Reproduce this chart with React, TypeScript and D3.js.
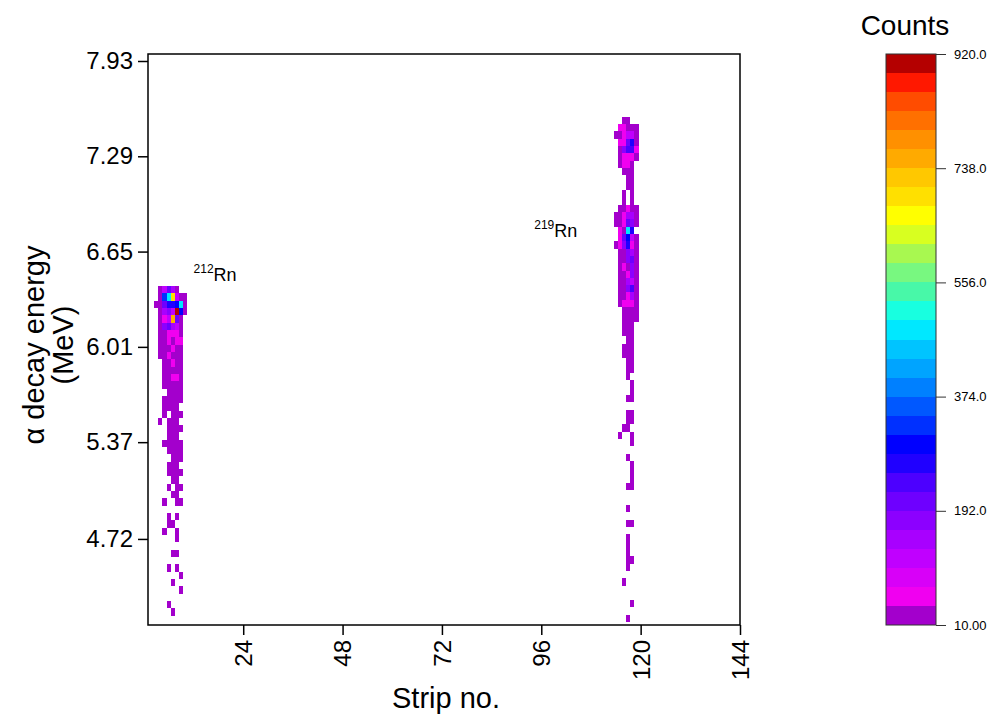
import React, { useEffect, useRef } from 'react';
import * as d3 from 'd3';

// axes
const STRIP_DOMAIN = [1, 144];
const ENERGY_DOMAIN = [4.142, 7.977];
const STRIP_TICKS = [24, 48, 72, 96, 120, 144];
const ENERGY_TICKS = [7.93, 7.29, 6.65, 6.01, 5.37, 4.72];
const COUNT_DOMAIN = [10, 920];
const COUNT_TICKS = [920, 738, 556, 374, 192, 10];
const COUNT_LABELS = ['920.0', '738.0', '556.0', '374.0', '192.0', '10.00'];
const ENERGY_BIN = 0.0492;

// 30 colour levels, low -> high
const PALETTE = [
  '#a300cc', '#f000f0', '#d800f8', '#c000ff', '#a800ff', '#8c00ff',
  '#6e00ff', '#4c00ff', '#2000ff', '#0000ff', '#0030ff', '#0058ff',
  '#0080ff', '#00a4ff', '#00c4ff', '#00e8ff', '#18ffe0', '#48f8a8',
  '#78f880', '#a8f850', '#d8ff20', '#ffff00', '#ffe000', '#ffc800',
  '#ffaa00', '#ff9000', '#ff7000', '#ff4c00', '#ff1800', '#b40000',
];

// 212Rn cluster: strips 3..10, rows from the top energy bin down
const RN212_STRIPS = [3, 4, 5, 6, 7, 8, 9, 10];
const RN212_TOP = 6.419;
const RN212_COUNTS = [
  [0, 30, 120, 200, 140, 30, 0, 0],
  [0, 30, 330, 480, 700, 130, 30, 30],
  [30, 30, 200, 260, 280, 300, 470, 30],
  [0, 30, 150, 180, 120, 900, 290, 30],
  [0, 30, 60, 130, 750, 220, 30, 0],
  [0, 30, 170, 200, 160, 120, 30, 0],
  [0, 30, 30, 60, 60, 60, 30, 0],
  [0, 30, 30, 60, 30, 60, 60, 0],
  [0, 30, 30, 30, 60, 30, 30, 0],
  [0, 30, 30, 60, 30, 30, 30, 0],
  [0, 0, 30, 30, 60, 30, 30, 0],
  [0, 0, 30, 30, 30, 30, 30, 0],
  [0, 0, 30, 30, 60, 60, 30, 0],
  [0, 0, 30, 30, 30, 30, 30, 0],
  [0, 0, 0, 30, 30, 30, 30, 0],
  [0, 0, 30, 30, 30, 30, 30, 0],
  [0, 0, 30, 30, 30, 30, 0, 0],
  [0, 0, 30, 0, 30, 30, 30, 0],
  [0, 30, 0, 30, 30, 30, 0, 0],
  [0, 0, 0, 30, 30, 30, 30, 0],
  [0, 0, 0, 30, 30, 30, 0, 0],
  [0, 0, 30, 30, 30, 30, 30, 0],
  [0, 0, 0, 30, 30, 30, 30, 0],
  [0, 0, 0, 0, 30, 30, 30, 0],
  [0, 0, 0, 30, 30, 30, 0, 0],
  [0, 0, 0, 30, 30, 30, 30, 0],
  [0, 0, 0, 0, 30, 30, 0, 0],
  [0, 0, 0, 30, 0, 30, 30, 0],
  [0, 0, 0, 0, 30, 30, 0, 0],
  [0, 0, 30, 0, 0, 30, 30, 0],
  [0, 0, 0, 0, 0, 0, 0, 0],
  [0, 0, 0, 30, 0, 30, 0, 0],
  [0, 0, 0, 30, 30, 0, 0, 0],
  [0, 0, 30, 0, 0, 30, 0, 0],
  [0, 0, 0, 0, 0, 30, 0, 0],
  [0, 0, 0, 0, 0, 0, 0, 0],
  [0, 0, 0, 0, 30, 30, 0, 0],
  [0, 0, 0, 0, 0, 0, 0, 0],
  [0, 0, 0, 30, 0, 30, 0, 0],
  [0, 0, 0, 0, 0, 0, 30, 0],
  [0, 0, 0, 0, 30, 0, 0, 0],
  [0, 0, 0, 0, 0, 0, 30, 0],
  [0, 0, 0, 0, 0, 0, 0, 0],
  [0, 0, 0, 30, 0, 0, 0, 0],
  [0, 0, 0, 0, 30, 0, 0, 0],
];

// 219Rn cluster: strips 114..119
const RN219_STRIPS = [114, 115, 116, 117, 118, 119];
const RN219_TOP = 7.556;
const RN219_COUNTS = [
  [0, 0, 30, 30, 0, 0],
  [0, 60, 60, 30, 30, 30],
  [30, 30, 60, 120, 120, 30],
  [0, 60, 60, 200, 280, 30],
  [0, 30, 170, 230, 250, 60],
  [0, 30, 60, 60, 60, 30],
  [0, 30, 60, 60, 30, 0],
  [0, 0, 30, 30, 30, 0],
  [0, 0, 0, 30, 30, 0],
  [0, 0, 0, 30, 30, 0],
  [0, 0, 30, 0, 30, 0],
  [0, 0, 30, 0, 30, 0],
  [0, 30, 30, 60, 30, 30],
  [30, 30, 60, 150, 150, 30],
  [30, 30, 60, 200, 170, 30],
  [0, 60, 30, 470, 260, 0],
  [0, 60, 200, 300, 120, 30],
  [30, 60, 170, 270, 60, 30],
  [0, 30, 30, 180, 160, 30],
  [0, 30, 30, 180, 220, 30],
  [0, 30, 60, 30, 170, 30],
  [0, 30, 30, 60, 170, 30],
  [0, 30, 30, 150, 130, 30],
  [0, 30, 30, 170, 230, 30],
  [0, 30, 30, 60, 150, 30],
  [0, 30, 60, 60, 60, 30],
  [0, 0, 30, 30, 30, 30],
  [0, 0, 30, 30, 30, 30],
  [0, 0, 30, 30, 30, 0],
  [0, 0, 30, 30, 30, 0],
  [0, 0, 0, 30, 30, 0],
  [0, 0, 30, 30, 30, 0],
  [0, 0, 30, 30, 30, 0],
  [0, 0, 0, 30, 30, 0],
  [0, 0, 0, 30, 30, 0],
  [0, 0, 0, 30, 0, 0],
  [0, 0, 0, 0, 30, 0],
  [0, 0, 0, 0, 30, 0],
  [0, 0, 0, 30, 30, 0],
  [0, 0, 0, 0, 0, 0],
  [0, 0, 0, 30, 30, 0],
  [0, 0, 0, 30, 30, 0],
  [0, 0, 30, 30, 0, 0],
  [0, 30, 0, 0, 30, 0],
  [0, 0, 0, 0, 30, 0],
  [0, 0, 0, 0, 0, 0],
  [0, 0, 0, 30, 0, 0],
  [0, 0, 0, 0, 30, 0],
  [0, 0, 0, 0, 30, 0],
  [0, 0, 0, 0, 30, 0],
  [0, 0, 0, 30, 30, 0],
  [0, 0, 0, 0, 0, 0],
  [0, 0, 0, 0, 0, 0],
  [0, 0, 0, 30, 0, 0],
  [0, 0, 0, 0, 0, 0],
  [0, 0, 0, 30, 30, 0],
  [0, 0, 0, 0, 0, 0],
  [0, 0, 0, 30, 0, 0],
  [0, 0, 0, 30, 0, 0],
  [0, 0, 0, 30, 0, 0],
  [0, 0, 0, 30, 30, 0],
  [0, 0, 0, 30, 0, 0],
  [0, 0, 0, 0, 0, 0],
  [0, 0, 30, 0, 0, 0],
  [0, 0, 0, 0, 0, 0],
  [0, 0, 0, 0, 0, 0],
  [0, 0, 0, 0, 30, 0],
  [0, 0, 0, 0, 0, 0],
  [0, 0, 0, 30, 0, 0],
];

const FONT = '"Liberation Sans", Arial, sans-serif';
const W = 989;
const H = 717;
const plot = { left: 148, right: 740, top: 54, bottom: 625 };
const bar = { left: 886, right: 936 };

type Cell = { strip: number; e0: number; e1: number; count: number };

function toCells(strips: number[], top: number, rows: number[][]): Cell[] {
  const out: Cell[] = [];
  rows.forEach((row, r) => {
    row.forEach((c, i) => {
      if (c > 0) out.push({ strip: strips[i], e1: top - r * ENERGY_BIN, e0: top - (r + 1) * ENERGY_BIN, count: c });
    });
  });
  return out;
}

function Heatmap() {
  const ref = useRef<SVGSVGElement>(null);

  useEffect(() => {
    const svg = d3.select(ref.current);
    svg.selectAll('*').remove();

    const x = d3.scaleLinear().domain(STRIP_DOMAIN).range([plot.left, plot.right]);
    const y = d3.scaleLinear().domain(ENERGY_DOMAIN).range([plot.bottom, plot.top]);
    const color = d3.scaleQuantize<string>().domain(COUNT_DOMAIN).range(PALETTE);
    const cy = d3.scaleLinear().domain(COUNT_DOMAIN).range([plot.bottom, plot.top]);

    const cells = toCells(RN212_STRIPS, RN212_TOP, RN212_COUNTS)
      .concat(toCells(RN219_STRIPS, RN219_TOP, RN219_COUNTS));

    svg.append('g')
      .selectAll('rect')
      .data(cells)
      .join('rect')
        .attr('x', d => x(d.strip - 0.5))
        .attr('width', d => x(d.strip + 0.5) - x(d.strip - 0.5))
        .attr('y', d => y(d.e1))
        .attr('height', d => y(d.e0) - y(d.e1))
        .attr('fill', d => color(d.count))
        .attr('shape-rendering', 'crispEdges');

    // frame
    svg.append('rect')
      .attr('x', plot.left).attr('y', plot.top)
      .attr('width', plot.right - plot.left).attr('height', plot.bottom - plot.top)
      .attr('fill', 'none').attr('stroke', '#000').attr('stroke-width', 1.5);

    const yAxis = svg.append('g')
      .attr('transform', `translate(${plot.left},0)`)
      .call(d3.axisLeft(y).tickValues(ENERGY_TICKS).tickFormat(d3.format('.2f')).tickSize(10).tickPadding(5));
    yAxis.select('.domain').remove();
    yAxis.selectAll('line').attr('stroke-width', 1.5);
    yAxis.selectAll('text').style('font-family', FONT).style('font-size', '24px').attr('fill', '#000');

    const xAxis = svg.append('g')
      .attr('transform', `translate(0,${plot.bottom})`)
      .call(d3.axisBottom(x).tickValues(STRIP_TICKS).tickFormat(d3.format('d')).tickSize(10));
    xAxis.select('.domain').remove();
    xAxis.selectAll('line').attr('stroke-width', 1.5);
    xAxis.selectAll('text')
      .attr('transform', 'rotate(-90)')
      .attr('x', -15).attr('y', 0).attr('dy', '0.35em')
      .style('text-anchor', 'end')
      .style('font-family', FONT).style('font-size', '24px').attr('fill', '#000');

    svg.append('text')
      .attr('x', (plot.left + plot.right) / 2 + 2).attr('y', 708)
      .attr('text-anchor', 'middle')
      .style('font-family', FONT).style('font-size', '29px')
      .text('Strip no.');

    const yTitle = svg.append('text')
      .attr('transform', 'translate(0,345) rotate(-90)')
      .attr('text-anchor', 'middle')
      .style('font-family', FONT).style('font-size', '29px');
    yTitle.append('tspan').attr('x', 0).attr('y', 44).text('\u03b1 decay energy');
    yTitle.append('tspan').attr('x', 0).attr('y', 73).text('(MeV)');

    // isotope labels
    const label = (strip: number, energy: number, mass: string) => {
      const t = svg.append('text')
        .attr('x', x(strip)).attr('y', y(energy))
        .style('font-family', FONT).style('font-size', '18px');
      t.append('tspan').attr('dy', -8).style('font-size', '12px').text(mass);
      t.append('tspan').attr('dy', 8).text('Rn');
    };
    label(12.0, 6.45, '212');
    label(94.3, 6.75, '219');

    // colour bar
    const levels = d3.range(PALETTE.length);
    const step = (COUNT_DOMAIN[1] - COUNT_DOMAIN[0]) / PALETTE.length;
    svg.append('g')
      .selectAll('rect')
      .data(levels)
      .join('rect')
        .attr('x', bar.left)
        .attr('width', bar.right - bar.left)
        .attr('y', i => cy(COUNT_DOMAIN[0] + (i + 1) * step))
        .attr('height', i => cy(COUNT_DOMAIN[0] + i * step) - cy(COUNT_DOMAIN[0] + (i + 1) * step))
        .attr('fill', i => PALETTE[i])
        .attr('shape-rendering', 'crispEdges');
    svg.append('rect')
      .attr('x', bar.left).attr('y', plot.top)
      .attr('width', bar.right - bar.left).attr('height', plot.bottom - plot.top)
      .attr('fill', 'none').attr('stroke', '#333').attr('stroke-width', 1);

    const cAxis = svg.append('g')
      .attr('transform', `translate(${bar.right},0)`)
      .call(d3.axisRight(cy).tickValues(COUNT_TICKS).tickFormat((d, i) => COUNT_LABELS[i]).tickSize(10).tickPadding(8));
    cAxis.select('.domain').remove();
    cAxis.selectAll('line').attr('stroke', '#333');
    cAxis.selectAll('text').style('font-family', FONT).style('font-size', '13px').attr('fill', '#000');

    svg.append('text')
      .attr('x', 905).attr('y', 35)
      .attr('text-anchor', 'middle')
      .style('font-family', FONT).style('font-size', '28px')
      .text('Counts');
  }, []);

  return <svg ref={ref} width={W} height={H} style={{ position: 'absolute', left: 0, top: 0, background: '#fff' }} />;
}

export default function App() {
  return <Heatmap />;
}
